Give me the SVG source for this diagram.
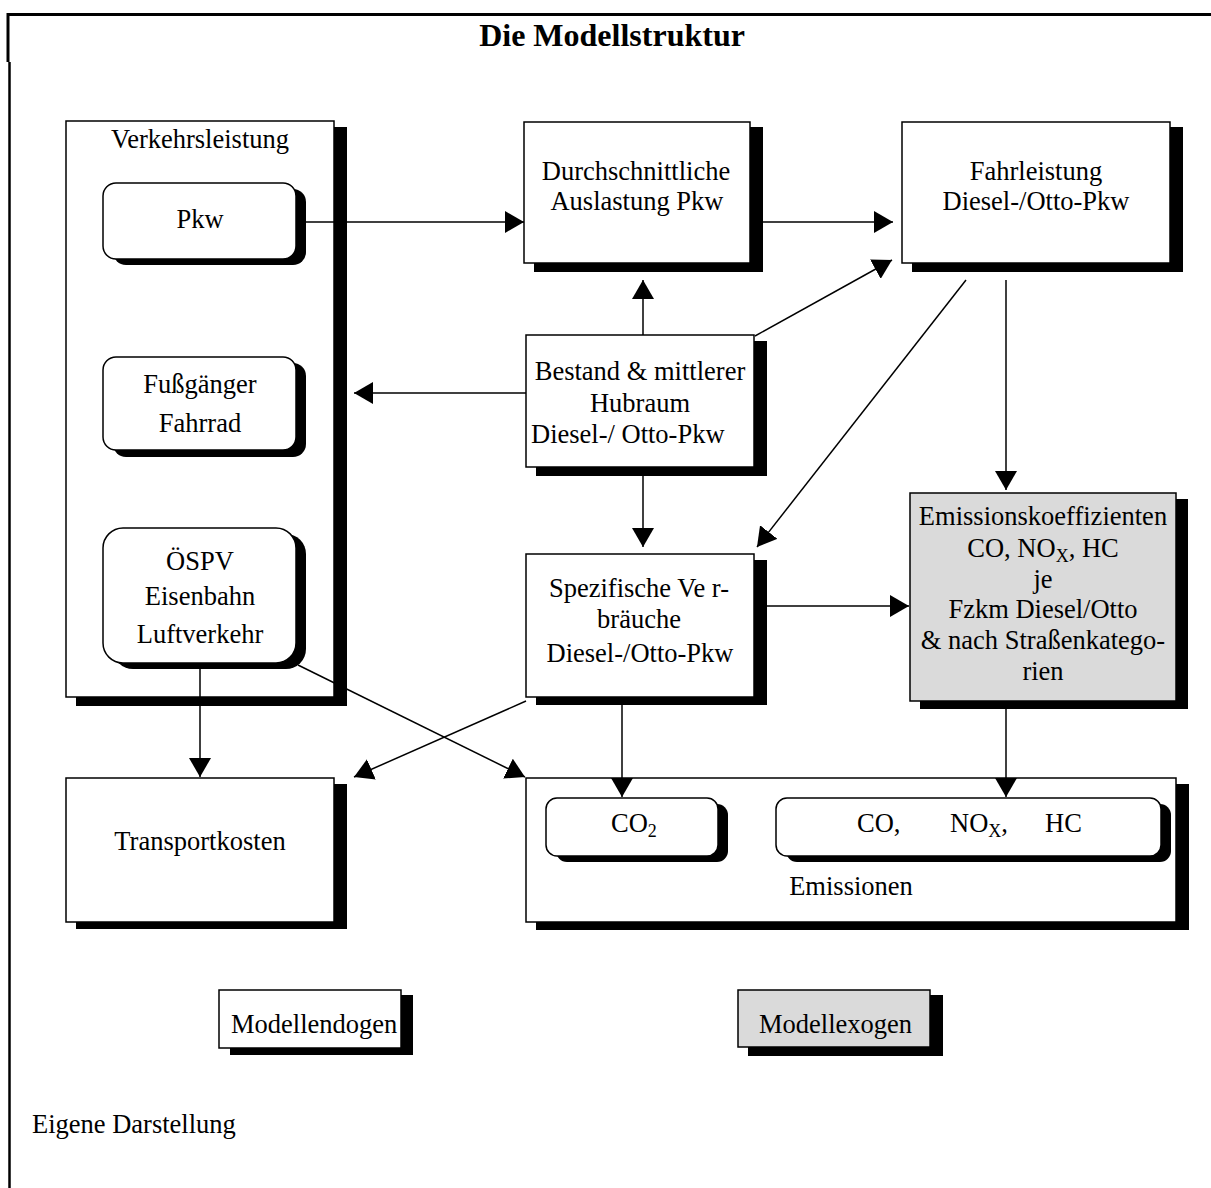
<svg xmlns="http://www.w3.org/2000/svg" width="1211" height="1188" viewBox="0 0 1211 1188">
<style>
text{font-family:"Liberation Serif","Times New Roman",serif;font-size:26.5px;fill:#000}
.t{text-anchor:middle}
.title{font-size:32px;font-weight:bold;text-anchor:middle}
.box{fill:#fff;stroke:#000;stroke-width:1.5}
.grey{fill:#dadada;stroke:#000;stroke-width:1.5}
.sh{fill:#000}
.con{fill:none;stroke:#000;stroke-width:1.5}
.sub{font-size:18px}
</style>
<defs>
<marker id="ah" viewBox="0 0 19 22" refX="19" refY="11" markerWidth="19" markerHeight="22" markerUnits="userSpaceOnUse" orient="auto">
<path d="M0,0 L19,11 L0,22 z" fill="#000"/>
</marker>
</defs>
<rect width="1211" height="1188" fill="#fff"/>
<g id="frame">
<line x1="8" y1="14.5" x2="1211" y2="14.5" stroke="#000" stroke-width="3"/>
<line x1="8" y1="13" x2="8" y2="62" stroke="#000" stroke-width="3"/>
<line x1="9.5" y1="62" x2="9.5" y2="1188" stroke="#000" stroke-width="2.5"/>
</g>
<text class="title" x="612" y="46">Die Modellstruktur</text>

<g id="verkehrsleistung">
<rect class="sh" x="76" y="127" width="271" height="579"/>
<rect class="box" x="66" y="121" width="268" height="576"/>
<text class="t" x="200" y="148">Verkehrsleistung</text>
</g>
<g id="pkw">
<rect class="sh" x="113" y="189" width="193" height="76" rx="13"/>
<rect class="box" x="103" y="183" width="193" height="76" rx="13"/>
<text class="t" x="200" y="228">Pkw</text>
</g>
<g id="fussgaenger">
<rect class="sh" x="113" y="363" width="193" height="94" rx="13"/>
<rect class="box" x="103" y="357" width="193" height="93" rx="13"/>
<text class="t" x="200" y="393">Fußgänger</text>
<text class="t" x="200" y="432">Fahrrad</text>
</g>
<g id="oespv">
<rect class="sh" x="113" y="534" width="193" height="135" rx="20"/>
<rect class="box" x="103" y="528" width="193" height="135" rx="20"/>
<text class="t" x="200" y="570">ÖSPV</text>
<text class="t" x="200" y="605">Eisenbahn</text>
<text class="t" x="200" y="643">Luftverkehr</text>
</g>

<g id="auslastung">
<rect class="sh" x="534" y="127" width="229" height="145"/>
<rect class="box" x="524" y="122" width="226" height="141"/>
<text class="t" x="636" y="180">Durchschnittliche</text>
<text class="t" x="637" y="210">Auslastung Pkw</text>
</g>
<g id="fahrleistung">
<rect class="sh" x="912" y="127" width="271" height="145"/>
<rect class="box" x="902" y="122" width="268" height="141"/>
<text class="t" x="1036" y="180">Fahrleistung</text>
<text class="t" x="1036" y="210">Diesel-/Otto-Pkw</text>
</g>
<g id="bestand">
<rect class="sh" x="536" y="341" width="231" height="135"/>
<rect class="box" x="526" y="335" width="228" height="132"/>
<text class="t" x="640" y="380">Bestand &amp; mittlerer</text>
<text class="t" x="640" y="412">Hubraum</text>
<text x="531" y="443">Diesel-/ Otto-Pkw</text>
</g>
<g id="spezifisch">
<rect class="sh" x="536" y="560" width="231" height="145"/>
<rect class="box" x="526" y="554" width="228" height="143"/>
<text class="t" x="639" y="597">Spezifische Ve r-</text>
<text class="t" x="639" y="628">bräuche</text>
<text class="t" x="640" y="662">Diesel-/Otto-Pkw</text>
</g>
<g id="emissionskoeffizienten">
<rect class="sh" x="920" y="499" width="268" height="210"/>
<rect class="grey" x="910" y="493" width="266" height="208"/>
<text class="t" x="1043" y="525">Emissionskoeffizienten</text>
<text class="t" x="1043" y="557">CO, NO<tspan class="sub" dy="5">X</tspan><tspan dy="-5">, HC</tspan></text>
<text class="t" x="1043" y="588">je</text>
<text class="t" x="1043" y="618">Fzkm Diesel/Otto</text>
<text class="t" x="1043" y="649">&amp; nach Straßenkatego-</text>
<text class="t" x="1043" y="680">rien</text>
</g>
<g id="transportkosten">
<rect class="sh" x="76" y="784" width="271" height="145"/>
<rect class="box" x="66" y="778" width="268" height="144"/>
<text class="t" x="200" y="850">Transportkosten</text>
</g>
<g id="emissionen">
<rect class="sh" x="536" y="784" width="653" height="146"/>
<rect class="box" x="526" y="778" width="650" height="144"/>
<text class="t" x="851" y="895">Emissionen</text>
</g>
<g id="co2">
<rect class="sh" x="556" y="804" width="172" height="58" rx="11"/>
<rect class="box" x="546" y="798" width="172" height="58" rx="11"/>
<text x="611" y="832">CO<tspan class="sub" dy="5">2</tspan></text>
</g>
<g id="co-nox-hc">
<rect class="sh" x="786" y="804" width="385" height="58" rx="11"/>
<rect class="box" x="776" y="798" width="385" height="58" rx="11"/>
<text x="857" y="832">CO,</text>
<text x="950" y="832">NO<tspan class="sub" dy="5">X</tspan><tspan dy="-5">,</tspan></text>
<text x="1045" y="832">HC</text>
</g>
<g id="modellendogen">
<rect class="sh" x="230" y="995" width="183" height="60"/>
<rect class="box" x="219" y="990" width="182" height="58"/>
<text x="231" y="1033">Modellendogen</text>
</g>
<g id="modellexogen">
<rect class="sh" x="748" y="995" width="195" height="61"/>
<rect class="grey" x="738" y="990" width="192" height="57"/>
<text x="759" y="1033">Modellexogen</text>
</g>
<text x="32" y="1133">Eigene Darstellung</text>

<g id="connectors">
<path class="con" d="M306,222 H524" marker-end="url(#ah)"/>
<path class="con" d="M763,222 H893" marker-end="url(#ah)"/>
<path class="con" d="M643,335 V280" marker-end="url(#ah)"/>
<path class="con" d="M755,336 L892,260" marker-end="url(#ah)"/>
<path class="con" d="M526,393 H354" marker-end="url(#ah)"/>
<path class="con" d="M643,476 V547" marker-end="url(#ah)"/>
<path class="con" d="M966,280 L757,547" marker-end="url(#ah)"/>
<path class="con" d="M1006,280 V490" marker-end="url(#ah)"/>
<path class="con" d="M767,606 H909" marker-end="url(#ah)"/>
<path class="con" d="M1006,709 V797" marker-end="url(#ah)"/>
<path class="con" d="M622,697 V797" marker-end="url(#ah)"/>
<path class="con" d="M526,701 L354,777" marker-end="url(#ah)"/>
<path class="con" d="M200,667 V777" marker-end="url(#ah)"/>
<path class="con" d="M298,665 L525,777" marker-end="url(#ah)"/>
</g>
</svg>
